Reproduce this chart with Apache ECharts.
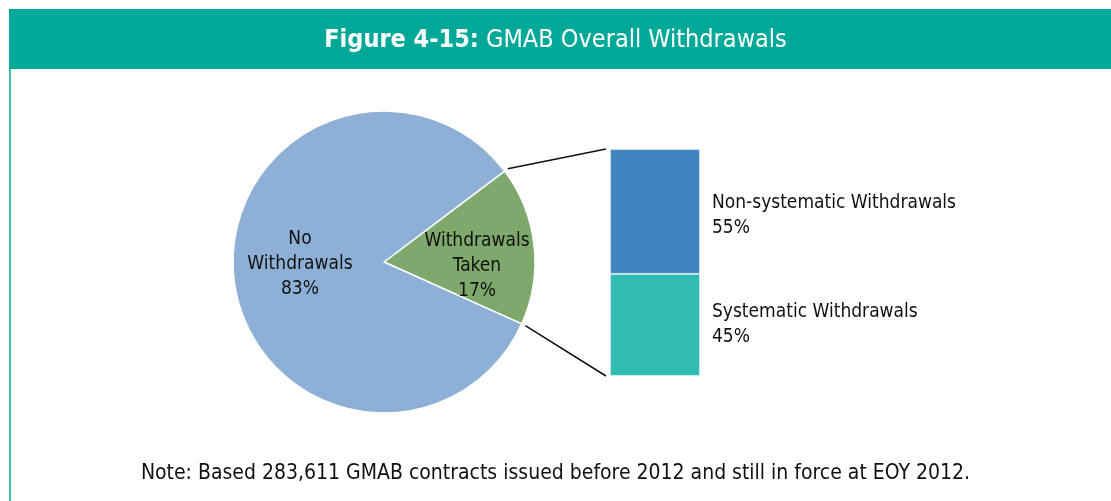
<!DOCTYPE html>
<html>
<head>
<meta charset="utf-8">
<script src="https://cdn.jsdelivr.net/npm/echarts@6/dist/echarts.min.js"></script>
<style>
  html, body { margin: 0; padding: 0; background: #fff; }
  #main { width: 1111px; height: 501px; }
</style>
</head>
<body>
<div id="main"></div>
<script>
// pie: overall split
var pieNames = ['Withdrawals\nTaken', 'No\nWithdrawals'];
var pieValues = [17, 83];
// bar: breakdown of withdrawals taken (bottom to top)
var barNames = ['Systematic Withdrawals', 'Non-systematic Withdrawals'];
var barValues = [45, 55];

var teal = '#00a997';
var font = '"DejaVu Sans Condensed", "Liberation Sans Narrow", sans-serif';

var pieCenter = [384, 262];
var pieRadius = 151;
var startAngle = 37;

var myChart = echarts.init(document.getElementById('main'));

option = {
    animation: false,
    backgroundColor: '#fff',
    title: [
        {
            text: '{b|Figure 4-15:} GMAB Overall Withdrawals',
            left: 'center',
            top: 23,
            textStyle: {
                color: '#fff',
                fontFamily: font,
                fontSize: 25,
                fontWeight: 'normal',
                rich: {
                    b: { color: '#fff', fontFamily: font, fontSize: 25, fontWeight: 'bold' }
                }
            }
        },
        {
            text: 'Note: Based 283,611 GMAB contracts issued before 2012 and still in force at EOY 2012.',
            left: 'center',
            top: 458,
            textStyle: { color: '#111', fontFamily: font, fontSize: 21, fontWeight: 'normal' }
        }
    ],
    grid: { left: 610, top: 149, width: 90, height: 227 },
    xAxis: { type: 'category', data: ['w'], show: false },
    yAxis: { type: 'value', min: 0, max: 100, show: false },
    series: [
        {
            type: 'pie',
            center: pieCenter,
            radius: pieRadius,
            startAngle: startAngle,
            clockwise: true,
            itemStyle: { borderColor: '#fff', borderWidth: 1.5 },
            label: {
                position: 'inner',
                color: '#111',
                fontFamily: font,
                fontSize: 19,
                lineHeight: 25,
                formatter: function (p) { return p.name + '\n' + p.value + '%'; }
            },
            // nudge labels (layout gets applied on both setOption calls below)
            labelLayout: function (params) {
                return params.dataIndex === 0 ? { dx: 7.5, dy: 6.5 } : { dx: -3, dy: -3.5 };
            },
            labelLine: { show: false },
            data: pieNames.map(function (n, i) {
                return {
                    name: n, value: pieValues[i],
                    itemStyle: { color: i === 0 ? '#7ea86c' : '#8eb0d7' }
                };
            })
        }
    ].concat(barNames.map(function (n, i) {
        return {
            type: 'bar',
            name: n,
            stack: 'w',
            barWidth: '100%',
            itemStyle: { color: i === 0 ? '#32bcb1' : '#4185bf', borderColor: '#dfeef6', borderWidth: 0.8 },
            label: {
                show: true,
                position: 'right',
                distance: 12,
                align: 'left',
                offset: i === 1 ? [0, 4] : [0, 0],
                color: '#111',
                fontFamily: font,
                fontSize: 19,
                lineHeight: 25,
                formatter: function (p) { return p.seriesName + '\n' + p.value + '%'; }
            },
            data: [barValues[i]]
        };
    }))
};

myChart.setOption(option);

// frame, header band and connector lines
var total = barValues[0] + barValues[1];
var topRight = myChart.convertToPixel({ gridIndex: 0 }, ['w', total]);
var botRight = myChart.convertToPixel({ gridIndex: 0 }, ['w', 0]);
var barLeft = 610;
var a1 = startAngle * Math.PI / 180;
var a2 = (startAngle - pieValues[0] / (pieValues[0] + pieValues[1]) * 360) * Math.PI / 180;
var p1 = [pieCenter[0] + (pieRadius + 4) * Math.cos(a1), pieCenter[1] - (pieRadius + 4) * Math.sin(a1)];
var p2 = [pieCenter[0] + (pieRadius + 4) * Math.cos(a2), pieCenter[1] - (pieRadius + 4) * Math.sin(a2)];

myChart.setOption({
    graphic: [
        { type: 'rect', z: -1, shape: { x: 9, y: 9, width: 1102, height: 60 }, style: { fill: teal } },
        { type: 'line', shape: { x1: 10, y1: 69, x2: 10, y2: 501 }, style: { stroke: teal, lineWidth: 1.5 } },
        { type: 'line', shape: { x1: p1[0], y1: p1[1], x2: barLeft - 4, y2: topRight[1] }, style: { stroke: '#111', lineWidth: 1.5 } },
        { type: 'line', shape: { x1: p2[0], y1: p2[1], x2: barLeft - 4, y2: botRight[1] }, style: { stroke: '#111', lineWidth: 1.5 } }
    ]
});
</script>
</body>
</html>
